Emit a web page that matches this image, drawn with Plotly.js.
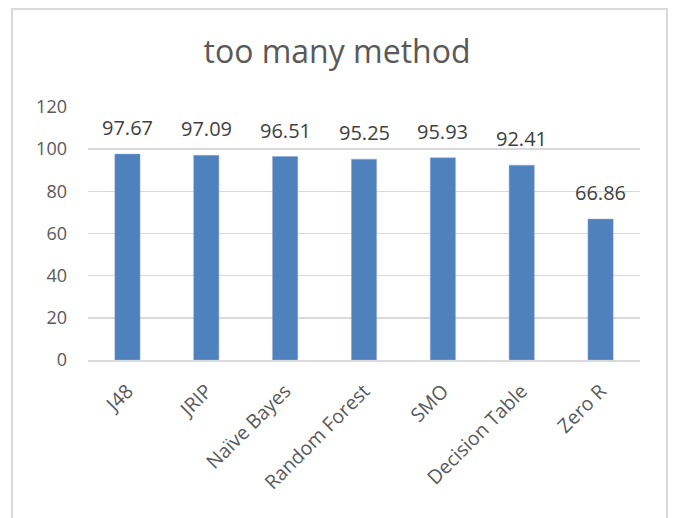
<!DOCTYPE html>
<html>
<head>
<meta charset="utf-8">
<script src="https://cdn.plot.ly/plotly-3.0.1.min.js"></script>
<style>
  html, body { margin: 0; padding: 0; background: #ffffff; }
  #chart { position: absolute; left: 0; top: 0; width: 674px; height: 518px; }
  #frame { position: absolute; left: 11px; top: 8px; width: 653px; height: 600px;
           border: 2px solid #D9D9D9; border-bottom: none; pointer-events: none; }
</style>
</head>
<body>
<div id="chart"></div>
<div id="frame"></div>
<script>
const categories = ["J48", "JRIP", "Naïve Bayes", "Random Forest", "SMO", "Decision Table", "Zero R"];
const values = [97.67, 97.09, 96.51, 95.25, 95.93, 92.41, 66.86];
const labels = ["97.67", "97.09", "96.51", "95.25", "95.93", "92.41", "66.86"];
const yTicks = [0, 20, 40, 60, 80, 100, 120];

const FONT = "Open Sans, Liberation Sans, sans-serif";
const TXT = "#595959";

const trace = {
  type: "bar",
  x: categories,
  y: values,
  marker: { color: "#4F81BD", line: { color: "#8EACD6", width: 0.5 } },
  width: 0.32,
  hoverinfo: "skip"
};

const annotations = categories.map((c, i) => ({
  x: c, y: values[i], text: labels[i],
  xref: "x", yref: "y",
  showarrow: false, yanchor: "bottom", yshift: 11,
  font: { family: FONT, size: 20, color: "#404040" }
}));

const layout = {
  width: 674, height: 518,
  margin: { l: 88, r: 34, t: 107, b: 158 },
  paper_bgcolor: "rgba(0,0,0,0)",
  plot_bgcolor: "rgba(0,0,0,0)",
  showlegend: false,
  title: {
    text: "too many method",
    font: { family: FONT, size: 32, color: TXT },
    x: 0.5, xanchor: "center",
    y: 1 - 52 / 518, yanchor: "middle", yref: "container"
  },
  xaxis: {
    type: "category",
    tickangle: -45,
    tickfont: { family: FONT, size: 19.5, color: TXT },
    showline: true, linecolor: "#D9D9D9", linewidth: 2,
    showgrid: false, ticks: "",
    ticklabelstandoff: 10,
    fixedrange: true
  },
  yaxis: {
    range: [0, 120],
    tickvals: yTicks,
    ticktext: yTicks.map(String),
    tickfont: { family: FONT, size: 18, color: TXT },
    showgrid: true, gridcolor: "#D9D9D9", gridwidth: 1.5,
    zeroline: false, showline: false, ticks: "",
    ticklabelstandoff: 20,
    fixedrange: true
  },
  annotations: annotations
};

Plotly.newPlot("chart", [trace], layout, { displayModeBar: false, staticPlot: true });
</script>
</body>
</html>
